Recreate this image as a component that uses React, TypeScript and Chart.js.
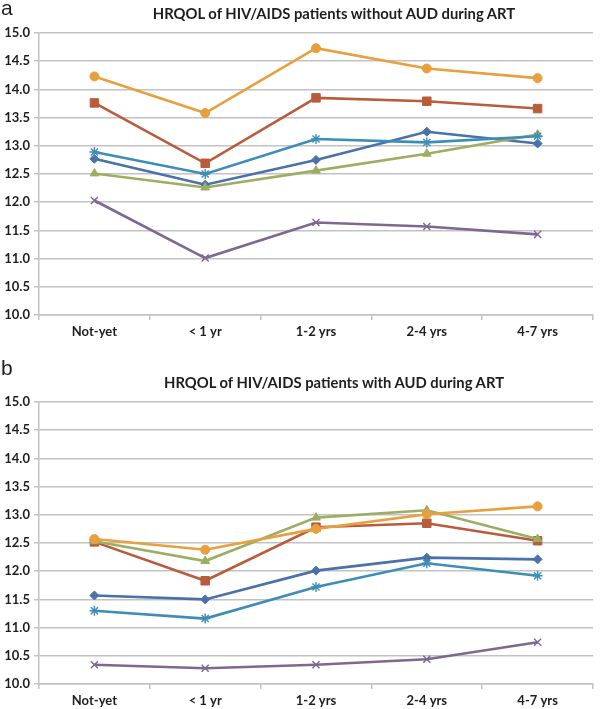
import React, { useEffect, useRef } from "react";
import { Chart, registerables } from "chart.js";

Chart.register(...registerables);

// ---------- data ----------
const categories = ["Not-yet", "< 1 yr", "1-2 yrs", "2-4 yrs", "4-7 yrs"];

const yMin = 10;
const yMax = 15;
const yStep = 0.5;

const seriesNames = ["Series 1", "Series 2", "Series 3", "Series 4", "Series 5", "Series 6"];

// Panel a: without AUD
const aSeries1 = [12.77, 12.31, 12.75, 13.25, 13.04];
const aSeries2 = [13.76, 12.69, 13.85, 13.79, 13.66];
const aSeries3 = [12.51, 12.26, 12.56, 12.86, 13.2];
const aSeries4 = [12.03, 11.01, 11.64, 11.57, 11.43];
const aSeries5 = [12.89, 12.5, 13.12, 13.06, 13.17];
const aSeries6 = [14.23, 13.58, 14.73, 14.37, 14.2];

// Panel b: with AUD
const bSeries1 = [11.57, 11.5, 12.01, 12.24, 12.21];
const bSeries2 = [12.52, 11.83, 12.78, 12.85, 12.54];
const bSeries3 = [12.53, 12.18, 12.95, 13.08, 12.57];
const bSeries4 = [10.34, 10.28, 10.34, 10.44, 10.74];
const bSeries5 = [11.3, 11.16, 11.72, 12.14, 11.92];
const bSeries6 = [12.57, 12.38, 12.75, 13.01, 13.15];

const titleA = "HRQOL of HIV/AIDS patients without AUD during ART";
const titleB = "HRQOL of HIV/AIDS patients with AUD during ART";

// ---------- styles ----------
const seriesColors = ["#4a72a8", "#b85c3c", "#9dae63", "#7e6790", "#3c8db8", "#e8a03f"];
const seriesMarkers = ["rectRot", "rect", "triangle", "crossRot", "star", "circle"];
const seriesRadius = [4.5, 6, 5, 5, 5, 4.5];
const gridColor = "#c2c2c2";
const textColor = "#1e1e1e";
const fontFamily = "Lato, 'Open Sans', sans-serif";

type PanelProps = {
  top: number;
  letter: string;
  letterTop: number;
  title: string;
  series: number[][];
};

function Panel({ top, letter, letterTop, title, series }: PanelProps) {
  const ref = useRef<HTMLCanvasElement | null>(null);

  useEffect(() => {
    if (!ref.current) return;
    const chart = new Chart(ref.current, {
      type: "line",
      data: {
        labels: categories,
        datasets: series.map((d, i) => ({
          label: seriesNames[i],
          data: d,
          borderColor: seriesColors[i],
          backgroundColor: seriesColors[i],
          borderWidth: 2.6,
          tension: 0,
          fill: false,
          pointStyle: seriesMarkers[i] as any,
          pointRadius: seriesRadius[i],
          pointBackgroundColor: seriesColors[i],
          pointBorderColor: seriesColors[i],
          pointBorderWidth: i === 3 || i === 4 ? 1.4 : 1,
          order: 6 - i,
        })),
      },
      options: {
        responsive: false,
        animation: false,
        layout: { padding: { top: 33, left: 0, right: 1, bottom: 0 } },
        plugins: {
          legend: { display: false },
          tooltip: { enabled: false },
          title: { display: false },
        },
        scales: {
          x: {
            type: "category",
            offset: true,
            grid: {
              offset: true,
              drawOnChartArea: false,
              drawTicks: true,
              tickLength: 5,
              color: gridColor,
              lineWidth: 1.5,
            },
            border: { display: true, color: gridColor, width: 1.5 },
            ticks: {
              color: textColor,
              font: { family: fontFamily, size: 13, weight: "bold" },
              padding: 4,
              maxRotation: 0,
              autoSkip: false,
            },
            afterFit: (scale: any) => {
              scale.height = 25;
            },
          },
          y: {
            min: yMin,
            max: yMax,
            grid: {
              color: gridColor,
              lineWidth: 1.5,
              tickLength: 5,
            },
            border: { display: true, color: gridColor, width: 1.5 },
            ticks: {
              stepSize: yStep,
              color: textColor,
              font: { family: fontFamily, size: 13, weight: "bold" },
              padding: 4,
              callback: (v: any) => Number(v).toFixed(1),
            },
            afterFit: (scale: any) => {
              scale.width = 39;
            },
          },
        },
      },
    });
    return () => chart.destroy();
  }, [series]);

  return (
    <div style={{ position: "absolute", top, left: 0, width: 600, height: 340 }}>
      <canvas ref={ref} width={600} height={340} style={{ display: "block" }} />
      <div
        style={{
          position: "absolute",
          top: 4,
          left: 334,
          transform: "translateX(-50%)",
          whiteSpace: "nowrap",
          fontFamily,
          fontWeight: 700,
          fontSize: 14.8,
          lineHeight: "18px",
          color: textColor,
        }}
      >
        {title}
      </div>
      <div
        style={{
          position: "absolute",
          top: letterTop,
          left: 1,
          fontFamily: "'Liberation Sans', Arial, sans-serif",
          fontSize: 21,
          lineHeight: "21px",
          color: textColor,
        }}
      >
        {letter}
      </div>
    </div>
  );
}

const seriesA = [aSeries1, aSeries2, aSeries3, aSeries4, aSeries5, aSeries6];
const seriesB = [bSeries1, bSeries2, bSeries3, bSeries4, bSeries5, bSeries6];

export default function App() {
  return (
    <div style={{ position: "absolute", top: 0, left: 0, width: 600, height: 709, background: "#fff", overflow: "hidden" }}>
      <Panel top={0} letter="a" letterTop={-3} title={titleA} series={seriesA} />
      <Panel top={369} letter="b" letterTop={-12} title={titleB} series={seriesB} />
    </div>
  );
}
